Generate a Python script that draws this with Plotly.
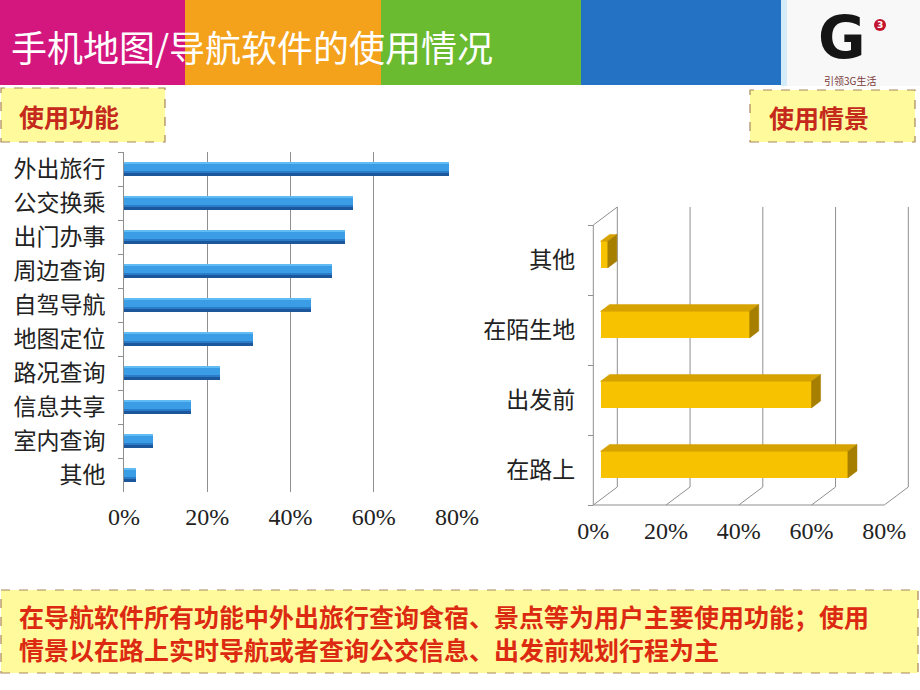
import plotly.graph_objects as go

# ---------------- data ----------------
func_categories = ["外出旅行", "公交换乘", "出门办事", "周边查询", "自驾导航",
                   "地图定位", "路况查询", "信息共享", "室内查询", "其他"]
func_values = [78, 55, 53, 50, 45, 31, 23, 16, 7, 3]

scene_categories = ["在路上", "出发前", "在陌生地", "其他"]   # bottom -> top
scene_values = [68, 58, 41, 2]

x_ticks = [0, 20, 40, 60, 80]

title_text = "手机地图/导航软件的使用情况"
left_label = "使用功能"
right_label = "使用情景"
summary_lines = ["在导航软件所有功能中外出旅行查询食宿、景点等为用户主要使用功能；使用",
                 "情景以在路上实时导航或者查询公交信息、出发前规划行程为主"]
logo_text = "引领3G生活"

# ---------------- styling constants ----------------
W, H = 920, 690
CJK = "Noto Sans CJK SC"
SERIF = "Liberation Serif"
GRID = "#8f8f8f"

def px(x):
    return x / W

def py(y):
    return 1 - y / H

fig = go.Figure()

# ---------------- left chart: gradient-like blue bars ----------------
BAR_W = 0.39
fig.add_trace(go.Bar(y=func_categories, x=func_values, orientation="h",
                     width=BAR_W, offset=-BAR_W / 2,
                     marker=dict(color="#3a9de6", line=dict(width=0)),
                     xaxis="x", yaxis="y", hoverinfo="x+y"))
fig.add_trace(go.Bar(y=func_categories, x=func_values, orientation="h",
                     width=0.06, offset=-BAR_W / 2,
                     marker=dict(color="#62bcf4", line=dict(width=0)),
                     xaxis="x", yaxis="y", hoverinfo="skip"))
fig.add_trace(go.Bar(y=func_categories, x=func_values, orientation="h",
                     width=0.07, offset=BAR_W / 2 - 0.14,
                     marker=dict(color="#2a7cc8", line=dict(width=0)),
                     xaxis="x", yaxis="y", hoverinfo="skip"))
fig.add_trace(go.Bar(y=func_categories, x=func_values, orientation="h",
                     width=0.07, offset=BAR_W / 2 - 0.07,
                     marker=dict(color="#1b579a", line=dict(width=0)),
                     xaxis="x", yaxis="y", hoverinfo="skip"))

# ---------------- right chart: pseudo-3D golden bars ----------------
SX = (884.3 - 593.3) / 80.0        # px per % on the front plane
DX = 24 / SX                        # wall depth in % units
DY = 18 / 70.0                      # wall depth in category units
F0 = 0.30                           # depth fraction of bar front face
FD = 0.38                           # bar depth fraction
BH = 0.38                           # bar height (category units)

pos = list(range(len(scene_categories)))

fig.add_trace(go.Bar(y=pos, x=scene_values, base=F0 * DX, orientation="h",
                     width=BH, offset=-BH / 2 + F0 * DY,
                     marker=dict(color="#f7c300", line=dict(width=0)),
                     xaxis="x2", yaxis="y2", hoverinfo="x"))

top_x, top_y, side_x, side_y = [], [], [], []
for i, v in zip(pos, scene_values):
    xl = F0 * DX
    xr = F0 * DX + v
    yt = i + BH / 2 + F0 * DY
    yb = yt - BH
    top_x += [xl, xr, xr + FD * DX, xl + FD * DX, xl, None]
    top_y += [yt, yt, yt + FD * DY, yt + FD * DY, yt, None]
    side_x += [xr, xr, xr + FD * DX, xr + FD * DX, xr, None]
    side_y += [yb, yt, yt + FD * DY, yb + FD * DY, yb, None]

fig.add_trace(go.Scatter(x=top_x, y=top_y, mode="lines", fill="toself",
                         fillcolor="#d6a200", line=dict(width=0.5, color="#d6a200"),
                         xaxis="x2", yaxis="y2", hoverinfo="skip"))
fig.add_trace(go.Scatter(x=side_x, y=side_y, mode="lines", fill="toself",
                         fillcolor="#a67e00", line=dict(width=0.5, color="#a67e00"),
                         xaxis="x2", yaxis="y2", hoverinfo="skip"))

shapes = []
# 3D frame of right chart
line_style = dict(color=GRID, width=1)
shapes.append(dict(type="line", xref="x2", yref="y2", x0=0, y0=-0.5, x1=0, y1=3.5,
                   line=line_style, layer="below"))
shapes.append(dict(type="line", xref="x2", yref="y2", x0=0, y0=3.5, x1=DX, y1=3.5 + DY,
                   line=line_style, layer="below"))
shapes.append(dict(type="line", xref="x2", yref="y2", x0=0, y0=-0.5, x1=x_ticks[-1], y1=-0.5,
                   line=line_style, layer="below"))
for t in x_ticks:
    shapes.append(dict(type="line", xref="x2", yref="y2", x0=t, y0=-0.5, x1=t + DX, y1=-0.5 + DY,
                       line=line_style, layer="below"))
    shapes.append(dict(type="line", xref="x2", yref="y2", x0=t + DX, y0=-0.5 + DY,
                       x1=t + DX, y1=3.5 + DY, line=line_style, layer="below"))

# banner
banner = [(0, 185, "#d3177f"), (185, 381, "#f4a11c"), (381, 581, "#6abb30"), (581, 781, "#2372c3")]
for x0, x1, c in banner:
    shapes.append(dict(type="rect", xref="paper", yref="paper", x0=px(x0), x1=px(x1),
                       y0=py(85), y1=1, fillcolor=c, line=dict(width=0), layer="below"))
# logo area
shapes.append(dict(type="rect", xref="paper", yref="paper", x0=px(781), x1=1, y0=py(86), y1=1,
                   fillcolor="#f8f8f8", line=dict(width=0), layer="below"))
shapes.append(dict(type="rect", xref="paper", yref="paper", x0=px(781), x1=px(787), y0=py(86), y1=1,
                   fillcolor="#d4ecf8", line=dict(width=0), layer="below"))
shapes.append(dict(type="circle", xref="paper", yref="paper", x0=px(874), x1=px(886),
                   y0=py(31), y1=py(19), fillcolor="#c2142c", line=dict(width=0)))

# yellow boxes
box_style = dict(color="#a8855c", width=1.2, dash="dash")
for x0, y0, x1, y1 in [(1, 88, 165, 142), (750, 90, 915, 142), (1, 590, 918, 673)]:
    shapes.append(dict(type="rect", xref="paper", yref="paper", x0=px(x0), x1=px(x1),
                       y0=py(y1), y1=py(y0), fillcolor="#fffb9d", line=box_style, layer="below"))

annotations = [
    dict(text=title_text, x=px(9), y=py(46), xref="paper", yref="paper",
         xanchor="left", yanchor="middle", showarrow=False,
         font=dict(family=CJK, size=36, color="#ffffff")),
    dict(text="<b>G</b>", x=px(842), y=py(38), xref="paper", yref="paper",
         xanchor="center", yanchor="middle", showarrow=False,
         font=dict(family="DejaVu Sans", size=58, color="#151515")),
    dict(text="<b>3</b>", x=px(880), y=py(25), xref="paper", yref="paper",
         xanchor="center", yanchor="middle", showarrow=False,
         font=dict(family="DejaVu Sans", size=9, color="#ffffff")),
    dict(text=logo_text, x=px(850), y=py(81), xref="paper", yref="paper",
         xanchor="center", yanchor="middle", showarrow=False,
         font=dict(family=CJK, size=10, color="#7a3a3a")),
    dict(text="<b>" + left_label + "</b>", x=px(17), y=py(116), xref="paper", yref="paper",
         xanchor="left", yanchor="middle", showarrow=False,
         font=dict(family=CJK, size=25, color="#c4291b")),
    dict(text="<b>" + right_label + "</b>", x=px(767), y=py(117), xref="paper", yref="paper",
         xanchor="left", yanchor="middle", showarrow=False,
         font=dict(family=CJK, size=25, color="#c4291b")),
    dict(text="<b>" + "<br>".join(summary_lines) + "</b>", x=px(17), y=py(632),
         xref="paper", yref="paper", xanchor="left", yanchor="middle", align="left",
         showarrow=False, font=dict(family=CJK, size=25, color="#dc2a12")),
]

# right chart axis placement
X2_MIN, X2_MAX = -1, 86.8
x2_left = 593.3 + X2_MIN * SX
x2_right = 593.3 + X2_MAX * SX
Y2_MIN, Y2_MAX = -0.6, 3.8
y2_bottom = 505 - (Y2_MIN + 0.5) * 70
y2_top = 505 - (Y2_MAX + 0.5) * 70

fig.update_layout(
    width=W, height=H,
    margin=dict(l=0, r=0, t=0, b=0, pad=0, autoexpand=False),
    paper_bgcolor="white", plot_bgcolor="rgba(0,0,0,0)",
    showlegend=False, barmode="overlay", bargap=0,
    shapes=shapes, annotations=annotations,
    xaxis=dict(domain=[px(124), px(457)], range=[0, 80], anchor="y", automargin=False,
               tickvals=x_ticks, ticktext=[f"{t}%" for t in x_ticks],
               showgrid=True, gridcolor=GRID, gridwidth=1, zeroline=False,
               showline=False, ticks="", ticklabelstandoff=8,
               tickfont=dict(family=SERIF, size=24, color="#222222")),
    yaxis=dict(domain=[py(492), py(152)], type="category", automargin=False,
               categoryorder="array", categoryarray=func_categories,
               autorange="reversed", anchor="x",
               showline=True, linecolor=GRID, linewidth=1,
               ticks="outside", tickson="boundaries", ticklen=5, tickcolor=GRID,
               showgrid=False, zeroline=False, ticklabelstandoff=13,
               tickfont=dict(family=CJK, size=23, color="#222222")),
    xaxis2=dict(domain=[px(x2_left), px(x2_right)], range=[X2_MIN, X2_MAX], anchor="y2",
                automargin=False,
                tickvals=x_ticks, ticktext=[f"{t}%" for t in x_ticks],
                showgrid=False, zeroline=False, showline=False, ticks="",
                ticklabelstandoff=2,
                tickfont=dict(family=SERIF, size=24, color="#222222")),
    yaxis2=dict(domain=[py(y2_bottom), py(y2_top)], range=[Y2_MIN, Y2_MAX],
                anchor="free", position=px(593.3), automargin=False,
                tickvals=pos, ticktext=scene_categories,
                showgrid=False, zeroline=False, showline=False, ticks="",
                ticklabelstandoff=18,
                minor=dict(tickvals=[-0.5, 0.5, 1.5, 2.5, 3.5], ticks="outside",
                           ticklen=5, tickcolor=GRID, showgrid=False),
                tickfont=dict(family=CJK, size=23, color="#222222")),
)

fig.write_html("out.html", config={"displayModeBar": False},
               post_script="document.body.style.margin='0';")
